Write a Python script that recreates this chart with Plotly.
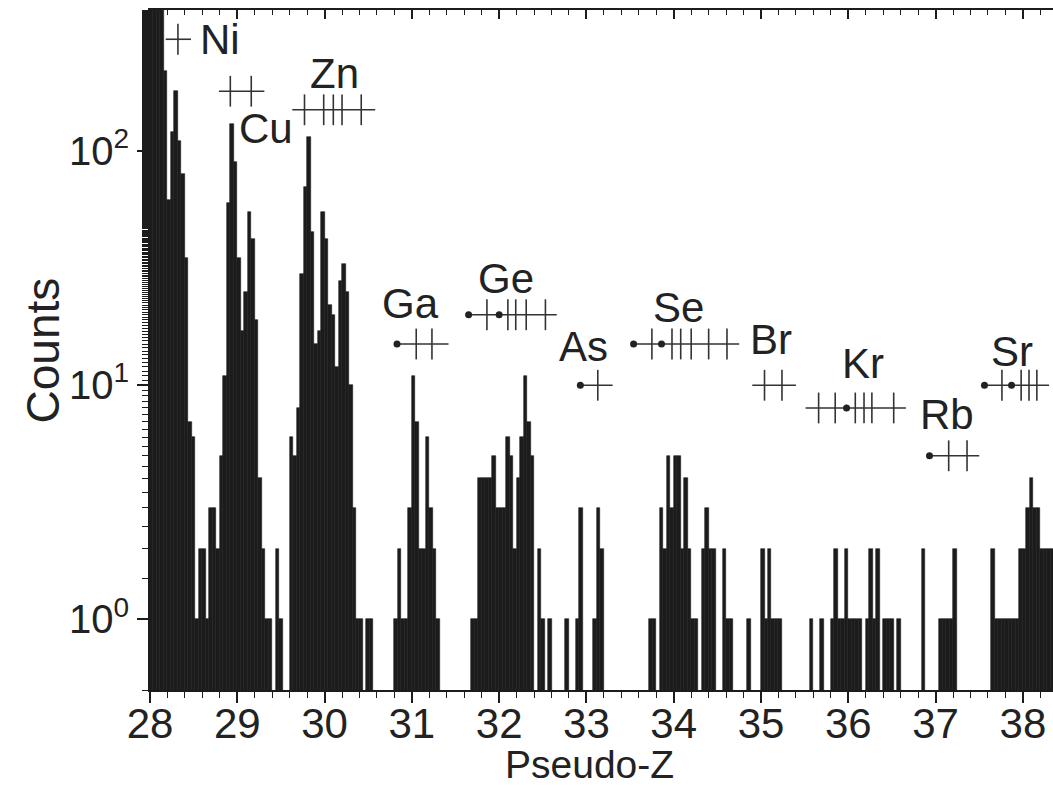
import numpy as np
import plotly.graph_objects as go

BIN = 0.04          # pseudo-Z bin width
Z0 = 28.0           # left edge of bin 0

# Counts per bin; each stretch starts at the given bin index
ni_cu_start = 0
ni_cu_counts = [2500, 3500, 3000, 1200, 220, 62, 120, 180, 110, 80,
                35, 7, 6, 1, 2, 2, 1, 3, 3, 2,
                5, 11, 60, 130, 90, 35, 17, 25, 55, 42,
                19, 4, 2, 1, 1, 0, 2, 1, 0, 0]
zn_start = 40
zn_counts = [6, 5, 8, 30, 70, 115, 45, 15, 17, 55,
             42, 22, 20, 12, 28, 33, 25, 10, 3, 1,
             1, 0, 1, 1, 0]
ga_start = 70
ga_counts = [1, 2, 1, 1, 3, 11, 7, 2, 2, 6, 3, 2, 1, 0]
ge_as_start = 92
ge_as_counts = [1, 1, 4, 4, 4, 4, 5, 3, 3, 3,
                6, 5, 2, 4, 6, 11, 7, 5, 0, 2,
                1, 0, 1, 0, 0, 0, 0, 1, 0, 0,
                1, 3, 0, 0, 0, 1, 3, 2]
se_kr_start = 143
se_kr_counts = [1, 1, 0, 3, 2, 5, 3, 5, 5, 2,
                4, 2, 1, 1, 0, 2, 3, 2, 2, 0,
                0, 2, 1, 1, 0, 0, 0, 0, 1, 0,
                0, 0, 2, 1, 2, 1, 1, 1, 0, 0,
                0, 0, 0, 0, 0, 0, 1, 0, 0, 1,
                0, 0, 1, 2, 1, 1, 2, 1, 1, 1,
                1, 0, 1, 2, 1, 2, 0, 1, 1, 1,
                0, 1]
rb_sr_start = 221
rb_sr_counts = [2, 0, 0, 0, 0, 1, 1, 1, 1, 2,
                0, 0, 0, 0, 0, 0, 0, 0, 0, 0,
                2, 1, 1, 1, 1, 1, 1, 1, 2, 2,
                3, 4, 3, 3, 2, 2, 2, 2]

stretches = [(ni_cu_start, ni_cu_counts), (zn_start, zn_counts),
             (ga_start, ga_counts), (ge_as_start, ge_as_counts),
             (se_kr_start, se_kr_counts), (rb_sr_start, rb_sr_counts)]

bin_x, bin_y = [], []
for start, vals in stretches:
    for k, v in enumerate(vals):
        if v > 0:
            bin_x.append(Z0 + BIN * (start + k + 0.5))
            bin_y.append(v)

# Isotope markers per element: label position, bar level, line span, ticks (stable), dots
elements = ["Ni", "Cu", "Zn", "Ga", "Ge", "As", "Se", "Br", "Kr", "Rb", "Sr"]
label_z = [28.80, 29.33, 30.11, 30.99, 32.08, 32.97, 34.06, 35.12, 36.17, 37.13, 37.88]
label_c = [300, 125, 215, 22.4, 28.7, 14.7, 21.5, 15.7, 12.4, 7.5, 14]
level_c = [300, 180, 150, 15, 20, 10, 15, 10, 8, 5, 10]
line_lo = [28.18, 28.79, 29.63, 30.83, 31.65, 32.93, 33.54, 34.90, 35.51, 36.93, 37.56]
line_hi = [28.47, 29.31, 30.58, 31.42, 32.66, 33.30, 34.75, 35.40, 36.66, 37.50, 38.30]
tick_z = [[28.32], [28.92, 29.16], [29.77, 29.99, 30.10, 30.20, 30.42],
          [31.05, 31.23], [31.86, 32.10, 32.19, 32.31, 32.53], [33.13],
          [33.75, 33.98, 34.08, 34.20, 34.40, 34.61], [35.04, 35.24],
          [35.66, 35.85, 36.08, 36.18, 36.27, 36.52], [37.15, 37.36],
          [37.76, 37.98, 38.07, 38.16]]
dot_z = [[], [], [], [30.83], [31.65, 32.00], [32.93], [33.54, 33.86], [],
         [35.98], [36.93], [37.56, 37.87]]

INK = "#1c1c1c"
TXT = "#222"
FONT = "Liberation Sans, Arial, sans-serif"

fig = go.Figure()
fig.add_trace(go.Bar(x=bin_x, y=bin_y, width=BIN,
                     marker=dict(color=INK, line=dict(width=0.6, color=INK)),
                     showlegend=False))

for i, el in enumerate(elements):
    fig.add_trace(go.Scatter(x=[line_lo[i], line_hi[i]], y=[level_c[i]] * 2,
                             mode="lines", line=dict(color="#333", width=1.6),
                             showlegend=False, hoverinfo="skip"))
    fig.add_trace(go.Scatter(x=tick_z[i], y=[level_c[i]] * len(tick_z[i]),
                             mode="markers",
                             marker=dict(symbol="line-ns", size=22,
                                         line=dict(color="#333", width=1.6)),
                             showlegend=False, hoverinfo="skip"))
    if dot_z[i]:
        fig.add_trace(go.Scatter(x=dot_z[i], y=[level_c[i]] * len(dot_z[i]),
                                 mode="markers",
                                 marker=dict(symbol="circle", size=7, color="#222"),
                                 showlegend=False, hoverinfo="skip"))
    fig.add_annotation(x=label_z[i], y=np.log10(label_c[i]), text=el,
                       showarrow=False, xanchor="center", yanchor="middle",
                       font=dict(family=FONT, size=42, color=TXT))

# axis titles
fig.add_annotation(x=33.04, xref="x", y=-0.109, yref="paper", text="Pseudo-Z",
                   showarrow=False, xanchor="center", yanchor="middle",
                   font=dict(family=FONT, size=39, color=TXT))
fig.add_annotation(x=-0.118, xref="paper", y=0.5, yref="paper", text="Counts",
                   textangle=-90, showarrow=False, xanchor="center", yanchor="middle",
                   font=dict(family=FONT, size=46, color=TXT))

# top frame axis with inward ticks
fig.add_trace(go.Scatter(x=[28.5], y=[1], xaxis="x2", mode="markers",
                         marker=dict(opacity=0), showlegend=False, hoverinfo="skip"))

XR = [28.0, 38.345]
fig.update_layout(
    width=1053, height=787,
    margin=dict(l=150, r=0, t=10, b=97),
    paper_bgcolor="white", plot_bgcolor="white",
    bargap=0,
    xaxis=dict(range=XR, tickmode="linear", tick0=28, dtick=1,
               ticks="outside", ticklen=11, tickwidth=1.6, tickcolor=INK,
               minor=dict(ticks="outside", ticklen=6, tickwidth=1.2,
                          tickcolor=INK, dtick=0.2),
               showline=True, linecolor=INK, linewidth=2,
               showgrid=False, zeroline=False, ticklabelstandoff=-15,
               tickfont=dict(family=FONT, size=42, color=TXT)),
    xaxis2=dict(range=XR, overlaying="x", side="top", tickmode="linear",
                tick0=28, dtick=1, ticks="inside", ticklen=9, tickwidth=1.6,
                tickcolor=INK,
                minor=dict(ticks="inside", ticklen=5, tickwidth=1.2,
                           tickcolor=INK, dtick=0.2),
                showline=True, linecolor=INK, linewidth=2,
                showticklabels=False, showgrid=False, zeroline=False),
    yaxis=dict(type="log", range=[np.log10(0.5), np.log10(400)],
               tickvals=[1, 10, 100],
               ticktext=["10<sup>0</sup>", "10<sup>1</sup>", "10<sup>2</sup>"],
               ticks="outside", ticklen=11, tickwidth=1.6, tickcolor=INK,
               minor=dict(ticks="outside", ticklen=6, tickwidth=1.2, tickcolor=INK),
               showline=True, linecolor=INK, linewidth=2,
               showgrid=False, zeroline=False,
               tickfont=dict(family=FONT, size=40, color=TXT)),
)

fig.write_html("out.html")
